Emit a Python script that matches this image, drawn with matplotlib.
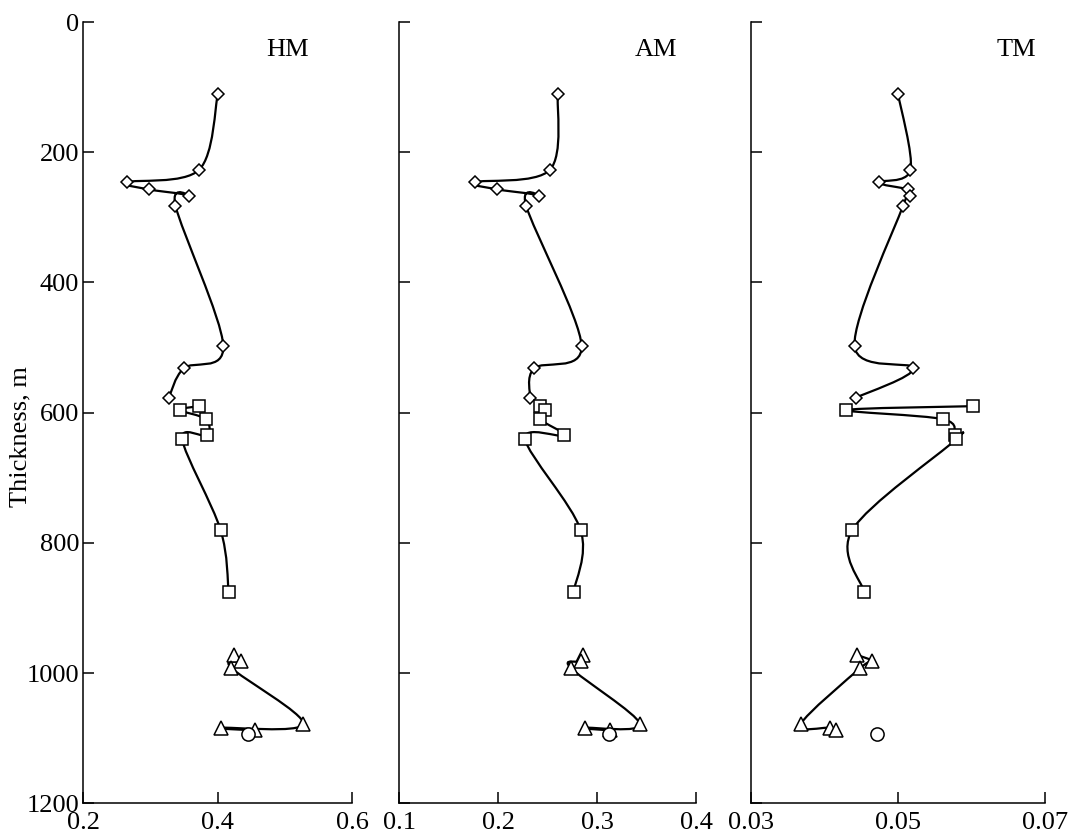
import numpy as np
import matplotlib
matplotlib.use("Agg")
import matplotlib.pyplot as plt
from matplotlib.path import Path
from matplotlib.patches import PathPatch

plt.rcParams['font.family'] = ['Liberation Serif', 'DejaVu Serif']

# sample depths (m) for each rock group
depth_diamond = [110, 227, 246, 257, 267, 282, 497, 532, 577]
depth_square = [590, 596, 610, 635, 641, 780, 875]
depth_triangle = [972, 982, 992, 1078, 1084, 1088]
depth_circle = [1093]

# HM
hm_diamond = [0.400, 0.372, 0.265, 0.297, 0.357, 0.337, 0.408, 0.349, 0.327]
hm_square = [0.372, 0.344, 0.382, 0.384, 0.347, 0.404, 0.416]
hm_triangle = [0.424, 0.435, 0.420, 0.527, 0.405, 0.455]
hm_circle = [0.445]

# AM
am_diamond = [0.260, 0.252, 0.176, 0.199, 0.241, 0.228, 0.284, 0.236, 0.232]
am_square = [0.242, 0.247, 0.242, 0.266, 0.227, 0.283, 0.276]
am_triangle = [0.285, 0.283, 0.273, 0.343, 0.288, 0.313]
am_circle = [0.312]

# TM
tm_diamond = [0.0500, 0.0517, 0.0474, 0.0513, 0.0516, 0.0507, 0.0441, 0.0521, 0.0443]
tm_square = [0.0602, 0.0430, 0.0561, 0.0577, 0.0579, 0.0438, 0.0454]
tm_triangle = [0.0444, 0.0465, 0.0449, 0.0368, 0.0407, 0.0416]
tm_circle = [0.0472]

panels = [
    ("HM", hm_diamond, hm_square, hm_triangle, hm_circle, (0.2, 0.6), [0.2, 0.4, 0.6], ["0.2", "0.4", "0.6"], 0.504),
    ("AM", am_diamond, am_square, am_triangle, am_circle, (0.1, 0.4), [0.1, 0.2, 0.3, 0.4], ["0.1", "0.2", "0.3", "0.4"], 0.359),
    ("TM", tm_diamond, tm_square, tm_triangle, tm_circle, (0.03, 0.07), [0.03, 0.05, 0.07], ["0.03", "0.05", "0.07"], 0.0661),
]
positions = [
    [0.078, 0.0345, 0.252, 0.939],
    [0.374, 0.0345, 0.278, 0.939],
    [0.703, 0.0345, 0.2756, 0.939],
]


def smooth_line(ax, x, y):
    # Catmull-Rom style smoothing drawn as cubic Bezier segments
    pts = np.column_stack([x, y]).astype(float)
    ext = np.vstack([pts[0], pts, pts[-1]])
    verts = [pts[0]]
    codes = [Path.MOVETO]
    for i in range(1, len(ext) - 2):
        p0, p1, p2, p3 = ext[i - 1], ext[i], ext[i + 1], ext[i + 2]
        verts += [p1 + (p2 - p0) / 6, p2 - (p3 - p1) / 6, p2]
        codes += [Path.CURVE4] * 3
    ax.add_patch(PathPatch(Path(verts, codes), fill=False, lw=1.6,
                           edgecolor="black", zorder=2))


fig = plt.figure(figsize=(10.68, 8.32), dpi=100)
mk = dict(mfc="white", mec="black", mew=1.1, ls="none", zorder=3)

for i, (name, dia, sq, tri, cir, xlim, xt, xtl, lx) in enumerate(panels):
    ax = fig.add_axes(positions[i])
    smooth_line(ax, dia, depth_diamond)
    smooth_line(ax, sq, depth_square)
    smooth_line(ax, tri, depth_triangle)
    ax.plot(dia, depth_diamond, marker="D", ms=6.5, **mk)
    ax.plot(sq, depth_square, marker="s", ms=9, **mk)
    ax.plot(tri, depth_triangle, marker="^", ms=10, **mk)
    ax.plot(cir, depth_circle, marker="o", ms=9.5, **mk)

    ax.set_xlim(*xlim)
    ax.set_ylim(1200, 0)
    ax.set_xticks(xt)
    ax.set_xticklabels(xtl)
    ax.set_yticks(range(0, 1201, 200))
    if i > 0:
        ax.set_yticklabels([])
    for s in ("top", "right"):
        ax.spines[s].set_visible(False)
    for s in ("left", "bottom"):
        ax.spines[s].set_linewidth(1.1)
    ax.tick_params(direction="in", length=8, width=1.1, labelsize=19)
    ax.tick_params(axis="y", pad=3)
    ax.tick_params(axis="x", pad=6)
    ax.text(lx, 43, name, fontsize=19, ha="center", va="center")

fig.text(0.019, 0.475, "Thickness, m", rotation=90, fontsize=19,
         ha="center", va="center")

fig.savefig("out.png", dpi=100)
